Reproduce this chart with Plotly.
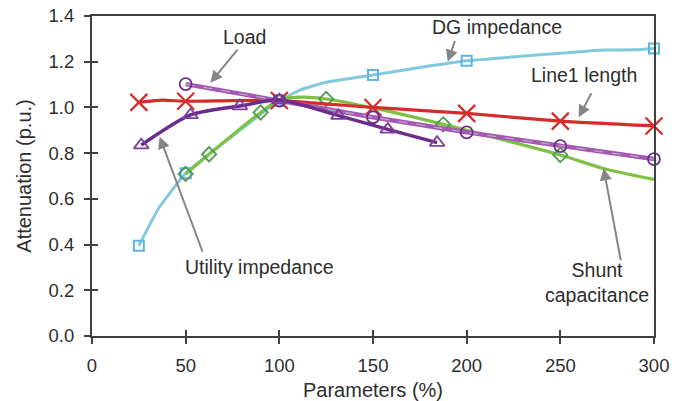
import plotly.graph_objects as go

# ---- data ----
# Utility impedance (dark purple, triangles)
util_x = [26.3, 52.6, 78.9, 100, 131.6, 157.9, 184.2]
util_y = [0.835, 0.967, 1.006, 1.032, 0.964, 0.904, 0.846]

# Line1 length (red, X)
line1_x = [25, 37.5, 50, 75, 100, 150, 200, 250, 300]
line1_y = [1.022, 1.032, 1.027, 1.03, 1.03, 1.0, 0.974, 0.94, 0.919]
line1_mx = [25, 50, 100, 150, 200, 250, 300]
line1_my = [1.022, 1.027, 1.03, 1.0, 0.974, 0.94, 0.919]

# DG impedance (light blue, squares)
dg_x = [25, 35.6, 50, 75, 100, 111, 125, 150, 175, 200, 250, 273, 290, 300]
dg_y = [0.395, 0.559, 0.712, 0.875, 1.03, 1.076, 1.11, 1.142, 1.175, 1.204, 1.237, 1.251, 1.252, 1.258]
dg_mx = [25, 50, 100, 150, 200, 300]
dg_my = [0.395, 0.712, 1.03, 1.142, 1.204, 1.258]

# Shunt capacitance (green, diamonds)
shunt_x = [50, 62.5, 75, 90, 100, 112.5, 125, 150, 187.5, 250, 273, 300]
shunt_y = [0.709, 0.795, 0.88, 0.978, 1.035, 1.045, 1.037, 0.998, 0.926, 0.792, 0.733, 0.685]
shunt_mx = [50, 62.5, 90, 125, 187.5, 250]
shunt_my = [0.709, 0.795, 0.978, 1.037, 0.926, 0.792]

# Load (light purple, circles)
load_x = [50, 100, 150, 200, 250, 300]
load_y = [1.102, 1.03, 0.957, 0.891, 0.831, 0.774]

x_ticks = [0, 50, 100, 150, 200, 250, 300]
y_ticks = [0.0, 0.2, 0.4, 0.6, 0.8, 1.0, 1.2, 1.4]

FONT = "Liberation Sans, Arial, sans-serif"
TXT = "#2e2e2e"
AX = "#404040"

fig = go.Figure()

# DG impedance
fig.add_trace(go.Scatter(x=dg_x, y=dg_y, mode="lines", line=dict(color="#82c9dd", width=3, shape="spline", smoothing=0.4), showlegend=False))
fig.add_trace(go.Scatter(x=dg_mx, y=dg_my, mode="markers", marker=dict(symbol="square-open", size=10, color="#5db3e3", line=dict(width=2)), showlegend=False, cliponaxis=False))

# Shunt capacitance
fig.add_trace(go.Scatter(x=shunt_x, y=shunt_y, mode="lines", line=dict(color="#7dc242", width=3.2, shape="spline", smoothing=0.6), showlegend=False))
fig.add_trace(go.Scatter(x=shunt_mx, y=shunt_my, mode="markers", marker=dict(symbol="diamond-open", size=11, color="#4f9a55", line=dict(width=1.8)), showlegend=False))

# Line1 length
fig.add_trace(go.Scatter(x=line1_x, y=line1_y, mode="lines", line=dict(color="#d52b2b", width=3.2, shape="spline", smoothing=0.5), showlegend=False))
fig.add_trace(go.Scatter(x=line1_mx, y=line1_my, mode="markers", marker=dict(symbol="x-thin-open", size=17, color="#d52b2b", line=dict(width=2.2, color="#d52b2b")), showlegend=False, cliponaxis=False))

# Load
fig.add_trace(go.Scatter(x=load_x, y=load_y, mode="lines", line=dict(color="#a458b4", width=4.5), showlegend=False))
fig.add_trace(go.Scatter(x=load_x, y=load_y, mode="lines", line=dict(color="#b9a6bd", width=1.3, dash="dash"), showlegend=False))
fig.add_trace(go.Scatter(x=load_x, y=load_y, mode="markers", marker=dict(symbol="circle-open", size=12, color="#6b2d8c", line=dict(width=1.8)), showlegend=False, cliponaxis=False))

# Utility impedance
fig.add_trace(go.Scatter(x=util_x, y=util_y, mode="lines+markers", line=dict(color="#6c2d8a", width=3.5, shape="spline", smoothing=0.7),
                         marker=dict(symbol="triangle-up-open", size=13, color="#7b3f9e", line=dict(width=1.8)), showlegend=False))

# dummy trace for the inside-tick overlay axes
fig.add_trace(go.Scatter(x=[0], y=[0], xaxis="x2", yaxis="y2", mode="markers", marker=dict(opacity=0), showlegend=False, hoverinfo="skip"))

# ---- annotations ----
labels = [
    ("Load", 81.5, 1.308),
    ("DG impedance", 216, 1.35),
    ("Line1 length", 262.7, 1.14),
    ("Utility impedance", 89, 0.303),
    ("Shunt<br>capacitance", 269.5, 0.232),
]
arrows = [
    (78.3, 1.259, 63.2, 1.108),
    (194.0, 1.298, 189.9, 1.2),
    (267.0, 1.069, 259.8, 0.957),
    (59.3, 0.362, 36.1, 0.872),
    (282.4, 0.325, 273.1, 0.734),
]
for t, x, y in labels:
    fig.add_annotation(x=x, y=y, text=t, showarrow=False, font=dict(family=FONT, size=19.5, color=TXT),
                       xanchor="center", yanchor="middle", align="center")
for tx, ty, hx, hy in arrows:
    fig.add_annotation(x=hx, y=hy, ax=tx, ay=ty, axref="x", ayref="y", xref="x", yref="y", text="",
                       showarrow=True, arrowhead=2, arrowsize=1.2, arrowwidth=2, arrowcolor="#858585",
                       standoff=0, startstandoff=0)

fig.update_layout(
    width=684, height=401,
    margin=dict(l=92, r=30, t=16, b=65),
    paper_bgcolor="white", plot_bgcolor="white",
    font=dict(family=FONT, color=TXT),
    xaxis=dict(range=[0, 300], tickvals=x_ticks, ticks="outside", ticklen=6, tickwidth=1.5, tickcolor=AX,
               showline=True, linecolor=AX, linewidth=2, mirror=True, showgrid=False, zeroline=False,
               tickfont=dict(size=18.5, color=TXT), ticklabelstandoff=6, automargin=False,
               title=dict(text="Parameters (%)", font=dict(size=20, color=TXT), standoff=8)),
    yaxis=dict(range=[0, 1.4], tickvals=y_ticks, tickformat=".1f", ticks="outside", ticklen=6, tickwidth=1.5, tickcolor=AX,
               showline=True, linecolor=AX, linewidth=2, mirror=True, showgrid=False, zeroline=False,
               tickfont=dict(size=18.5, color=TXT), ticklabelstandoff=6, automargin=False,
               title=dict(text="Attenuation (p.u.)", font=dict(size=20, color=TXT), standoff=12)),
    xaxis2=dict(range=[0, 300], tickvals=x_ticks, ticks="inside", ticklen=6, tickwidth=1.5, tickcolor=AX,
                overlaying="x", showticklabels=False, showgrid=False, zeroline=False, showline=False, automargin=False),
    yaxis2=dict(range=[0, 1.4], tickvals=y_ticks, ticks="inside", ticklen=6, tickwidth=1.5, tickcolor=AX,
                overlaying="y", showticklabels=False, showgrid=False, zeroline=False, showline=False, automargin=False),
)

fig.write_html("out.html")
